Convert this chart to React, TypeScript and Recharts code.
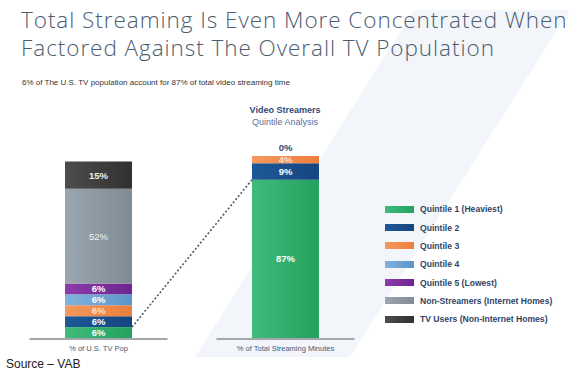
import React from 'react';
import { BarChart, Bar, XAxis, YAxis, LabelList, Legend } from 'recharts';

const categories = ['% of U.S. TV Pop', '% of Total Streaming Minutes'];
const seriesNames = [
  'Quintile 1 (Heaviest)',
  'Quintile 2',
  'Quintile 3',
  'Quintile 4',
  'Quintile 5 (Lowest)',
  'Non-Streamers (Internet Homes)',
  'TV Users (Non-Internet Homes)',
];
const quintile1 = [6, 87];
const quintile2 = [6, 9];
const quintile3 = [6, 4];
const quintile4 = [6, 0];
const quintile5 = [6, 0];
const nonStreamers = [52, 0];
const tvUsers = [15, 0];

const titleText = 'Total Streaming Is Even More Concentrated When\nFactored Against The Overall TV Population';
const subtitleText = '6% of The U.S. TV population account for 87% of total video streaming time';

const seriesKeys = ['q1', 'q2', 'q3', 'q4', 'q5', 'ns', 'tv'];
const seriesValues = [quintile1, quintile2, quintile3, quintile4, quintile5, nonStreamers, tvUsers];
const colorsLight = ['#3fbb7b', '#1e5898', '#f6985e', '#82b2dd', '#8b3ca9', '#9ba6af', '#4c4c4c'];
const colorsDark = ['#24a15f', '#164580', '#ec7f3c', '#5d95c9', '#6d2590', '#7f8b95', '#313131'];
const labelColors = ['#ffffff', '#ffffff', '#fde0cc', '#ffffff', '#ffffff', '#eef1f4', '#eeeeee'];
const labelWeights = ['bold', 'bold', 'bold', 'bold', 'bold', 'normal', 'bold'];

const data = categories.map((name, i) => {
  const row: Record<string, any> = { name };
  seriesKeys.forEach((k, s) => {
    row[k] = seriesValues[s][i];
  });
  return row;
});

const FONT = '"Liberation Sans", Arial, sans-serif';

function makeLabel(s: number) {
  return (props: any) => {
    const vb = props.viewBox ?? props;
    const { x, y, width, height } = vb;
    const v = props.value;
    const idx = props.index;
    const parts: any[] = [];
    if (v) {
      parts.push(
        <text
          key="v"
          x={x + width / 2}
          y={y + height / 2 + 3.5}
          textAnchor="middle"
          fill={labelColors[s]}
          fontSize={9.5}
          fontWeight={labelWeights[s]}
          fontFamily={FONT}
        >
          {v}%
        </text>
      );
    }
    // zero-height Quintile 5 on the streaming bar: show its value above the stack
    if (s === 2 && idx != null && quintile5[idx] === 0 && quintile4[idx] === 0) {
      parts.push(
        <text key="z" x={x + width / 2} y={y - 5} textAnchor="middle" fill="#2b4872" fontSize={9.5} fontWeight="bold" fontFamily={FONT}>
          {quintile5[idx]}%
        </text>
      );
    }
    return parts.length ? <g>{parts}</g> : null;
  };
}

const AxisTick = (props: any) => {
  const { x, y, payload } = props;
  return (
    <g>
      <line x1={x - 69} x2={x + 69} y1={y + 1} y2={y + 1} stroke="#a3a7ab" strokeWidth={2} />
      <text x={x} y={y + 13} textAnchor="middle" fill="#3e5a7c" fontSize={7.5} fontFamily={FONT}>
        {payload.value}
      </text>
    </g>
  );
};

const LegendContent = () => (
  <div style={{ fontFamily: FONT }}>
    {seriesNames.map((n, i) => (
      <div key={n} style={{ display: 'flex', alignItems: 'center', height: 18.35 }}>
        <div
          style={{
            width: 29,
            height: 7,
            background: `linear-gradient(to right, ${colorsLight[i]}, ${colorsDark[i]})`,
            marginRight: 6,
          }}
        />
        <span style={{ fontSize: 8.6, fontWeight: 'bold', color: '#2f4566', whiteSpace: 'nowrap' }}>{n}</span>
      </div>
    ))}
  </div>
);

export default function App() {
  const geo: Record<number, any> = {};
  const q1Shape = (props: any) => {
    const { x, y, width, height, index } = props;
    geo[index] = { x, y, width, height };
    const prev = geo[0];
    return (
      <g>
        <rect x={x} y={y} width={width} height={height} fill="url(#grad0)" />
        {index === 1 && prev ? (
          <line
            x1={prev.x + prev.width}
            y1={prev.y}
            x2={x}
            y2={y}
            stroke="#555a60"
            strokeWidth={1.6}
            strokeDasharray="2 2"
          />
        ) : null}
      </g>
    );
  };

  return (
    <div style={{ position: 'absolute', left: 0, top: 0, width: 579, height: 375, background: '#ffffff', overflow: 'hidden' }}>
      <svg width={579} height={375} style={{ position: 'absolute', left: 0, top: 0 }}>
        <polygon points="195,357 350,357 570,10 414,10" fill="#f2f6fa" />
      </svg>
      <div
        style={{
          position: 'absolute',
          left: 21,
          top: 6,
          fontFamily: '"Open Sans", Lato, sans-serif',
          fontWeight: 300,
          fontSize: 22.5,
          letterSpacing: 0.95,
          lineHeight: '28px',
          color: '#4c5d70',
          whiteSpace: 'pre',
        }}
      >
        {titleText}
      </div>
      <div
        style={{
          position: 'absolute',
          left: 22,
          top: 78,
          fontFamily: FONT,
          fontSize: 8,
          color: '#333',
          whiteSpace: 'nowrap',
        }}
      >
        {subtitleText}
      </div>
      <div
        style={{
          position: 'absolute',
          left: 235,
          width: 100,
          top: 104,
          textAlign: 'center',
          fontFamily: FONT,
          fontSize: 9,
          lineHeight: '12px',
        }}
      >
        <div style={{ fontWeight: 'bold', color: '#2f4a78' }}>Video Streamers</div>
        <div style={{ color: '#5d6f95' }}>Quintile Analysis</div>
      </div>
      <div
        style={{
          position: 'absolute',
          left: 6,
          top: 357,
          fontFamily: FONT,
          fontSize: 12,
          color: '#222',
          whiteSpace: 'nowrap',
        }}
      >
        Source – VAB
      </div>
      <div style={{ position: 'absolute', left: 0, top: 0 }}>
        <BarChart width={579} height={375} data={data} margin={{ top: 156, right: 200, bottom: 7, left: 5 }}>
          <defs>
            {seriesKeys.map((k, i) => (
              <linearGradient key={k} id={`grad${i}`} x1="0" y1="0" x2="1" y2="0">
                <stop offset="0%" stopColor={colorsLight[i]} />
                <stop offset="100%" stopColor={colorsDark[i]} />
              </linearGradient>
            ))}
          </defs>
          <XAxis
            dataKey="name"
            axisLine={false}
            tickLine={false}
            tickSize={0}
            tickMargin={0}
            height={30}
            interval={0}
            tick={<AxisTick />}
          />
          <YAxis hide domain={[0, 100]} />
          <Legend
            layout="vertical"
            align="center"
            verticalAlign="middle"
            content={<LegendContent />}
            wrapperStyle={{ left: 385, top: 200, width: 190 }}
          />
          {seriesKeys.map((k, i) => (
            <Bar
              key={k}
              dataKey={k}
              name={seriesNames[i]}
              stackId="a"
              barSize={67}
              fill={`url(#grad${i})`}
              isAnimationActive={false}
              shape={i === 0 ? q1Shape : undefined}
            >
              <LabelList dataKey={k} content={makeLabel(i)} />
            </Bar>
          ))}
        </BarChart>
      </div>
    </div>
  );
}
